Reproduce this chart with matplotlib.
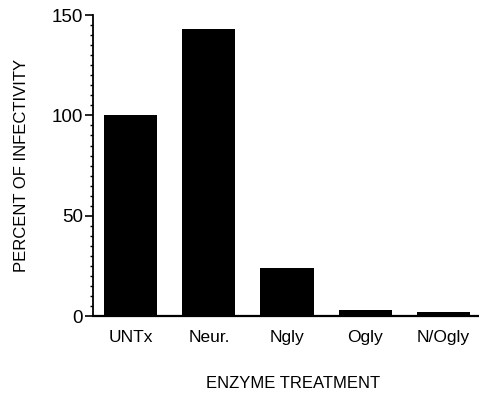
import matplotlib.pyplot as plt
from matplotlib.ticker import MultipleLocator

plt.rcParams['font.family'] = ['Liberation Sans', 'DejaVu Sans']

treatments = ['UNTx', 'Neur.', 'Ngly', 'Ogly', 'N/Ogly']
infectivity = [100, 143, 24, 3, 2]

fig = plt.figure(figsize=(4.79, 3.98), dpi=100)
ax = fig.add_axes([0.194, 0.206, 0.804, 0.756])

ax.bar(range(len(treatments)), infectivity, width=0.68, color='black')
ax.set_xlim(-0.485, 4.447)
ax.set_ylim(0, 150)
ax.set_xticks(range(len(treatments)))
ax.set_xticklabels(treatments, fontsize=12.5)
ax.set_yticks([0, 50, 100, 150])
ax.yaxis.set_minor_locator(MultipleLocator(5))
ax.tick_params(axis='y', which='major', length=6, width=1.2, labelsize=13.5, pad=1)
ax.tick_params(axis='y', which='minor', length=2.5, width=1)
ax.tick_params(axis='x', length=0, pad=10)

ax.spines['top'].set_visible(False)
ax.spines['right'].set_visible(False)
ax.spines['left'].set_linewidth(1.3)
ax.spines['bottom'].set_linewidth(1.6)

ax.set_ylabel('PERCENT OF INFECTIVITY', fontsize=12)
ax.yaxis.set_label_coords(-0.165, 0.5)
ax.set_xlabel('ENZYME TREATMENT', fontsize=12)
ax.xaxis.set_label_coords(0.52, -0.2)

fig.savefig('out.png', dpi=100)
